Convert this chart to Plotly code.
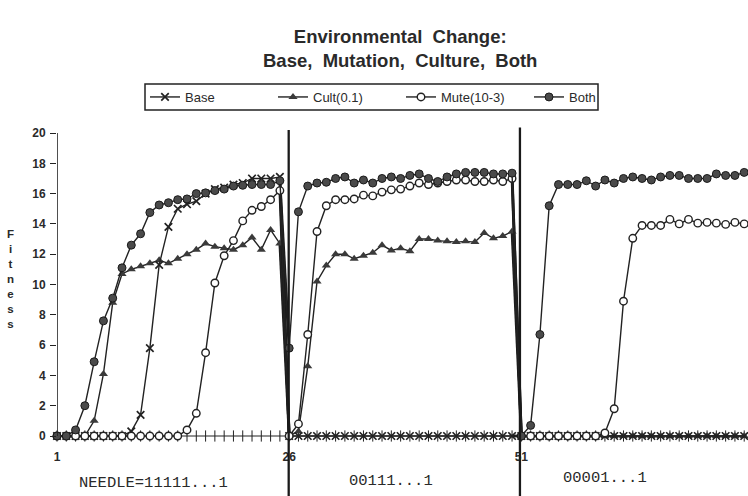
import plotly.graph_objects as go

generations = list(range(1, 76))

base = [0, 0, 0, 0, 0, 0, 0, 0, 0.3, 1.4, 5.8, 11.3, 13.8, 15.0, 15.3, 15.5, 16.0, 16.3, 16.4, 16.6, 16.7, 17.0, 17.0, 17.0, 17.1] + [0] * 50

cult = ([0, 0, 0, 0, 1.0, 4.1, 8.8, 10.7, 11.0, 11.2, 11.4, 11.6, 11.4, 11.7, 12.0, 12.3, 12.7, 12.5, 12.4, 12.3, 12.6, 13.1, 12.3, 13.6, 12.7]
        + [0, 0.3, 4.6, 10.2, 11.25, 12.0, 12.0, 11.7, 11.9, 12.1, 12.6, 12.25, 12.4, 12.2, 13.0, 13.0, 12.9, 12.85, 12.8, 12.85, 12.8, 13.4, 13.05, 13.2, 13.5]
        + [0] * 25)

mute = ([0, 0, 0, 0, 0, 0, 0, 0, 0, 0, 0, 0, 0, 0, 0.4, 1.5, 5.5, 10.1, 11.9, 12.9, 14.2, 14.9, 15.15, 15.6, 16.2]
        + [0, 0.8, 6.7, 13.5, 15.2, 15.6, 15.6, 15.65, 15.9, 15.85, 16.1, 16.25, 16.3, 16.5, 16.7, 16.6, 16.7, 16.8, 16.9, 16.9, 16.8, 16.8, 16.9, 16.8, 17.0]
        + [0, 0, 0, 0, 0, 0, 0, 0, 0, 0.2, 1.8, 8.9, 13.05, 13.9, 13.9, 13.9, 14.3, 14.0, 14.3, 14.05, 14.1, 14.05, 13.97, 14.1, 14.0])

both = ([0, 0, 0.4, 2.0, 4.9, 7.6, 9.1, 11.1, 12.6, 13.35, 14.75, 15.25, 15.4, 15.6, 15.65, 16.0, 16.05, 16.2, 16.3, 16.5, 16.55, 16.6, 16.6, 16.6, 16.85]
        + [5.8, 14.8, 16.5, 16.7, 16.75, 17.0, 17.1, 16.7, 16.9, 16.7, 17.0, 17.1, 17.0, 17.2, 17.3, 17.0, 16.8, 17.1, 17.3, 17.4, 17.4, 17.4, 17.3, 17.3, 17.35]
        + [0, 0.7, 6.7, 15.2, 16.6, 16.6, 16.6, 16.85, 16.5, 16.9, 16.7, 17.0, 17.1, 17.0, 16.9, 17.1, 17.2, 17.2, 17.0, 17.0, 17.0, 17.3, 17.2, 17.2, 17.4])

y_ticks = [0, 2, 4, 6, 8, 10, 12, 14, 16, 18, 20]
x_tickvals = [1, 26, 51]
x_ticktext = ["1", "26", "51"]
change_points = [25.95, 50.85]
env_labels = ["NEEDLE=11111...1", "00111...1", "00001...1"]
env_label_x = [11.4, 37.0, 60.0]
env_label_y = [-0.135, -0.129, -0.119]

INK = "#222222"
LINE_W = 1.4
SANS = "Liberation Sans, Arial"

series = [
    ("Cult(0.1)", cult, 2, dict(symbol="triangle-up", size=8, color="#3a3a3a")),
    ("Base", base, 1, dict(symbol="x-thin-open", size=7.5, color=INK, line=dict(width=1.7, color=INK))),
    ("Mute(10-3)", mute, 3, dict(symbol="circle", size=7.5, color="white", line=dict(width=1.4, color=INK))),
    ("Both", both, 4, dict(symbol="circle", size=8, color="#4a4a4a", line=dict(width=1, color="#1a1a1a"))),
]

fig = go.Figure()

# x-axis tick marks at each generation
fig.add_trace(go.Scatter(
    x=generations, y=[0] * len(generations), mode="markers",
    marker=dict(symbol="line-ns-open", size=8, color=INK, line=dict(width=1, color=INK)),
    showlegend=False, hoverinfo="skip", cliponaxis=False))

# heavier strokes where the environment changes (drawn from the same series)
for name, ys, rank, mk in series:
    for cp in change_points:
        i = int(cp)
        fig.add_trace(go.Scatter(
            x=generations[i - 1:i + 1], y=ys[i - 1:i + 1], mode="lines",
            line=dict(color="#1a1a1a", width=2.8), showlegend=False, hoverinfo="skip"))

for name, ys, rank, mk in series:
    fig.add_trace(go.Scatter(
        x=generations, y=ys, mode="lines+markers", name=name, legendrank=rank,
        line=dict(color=INK, width=LINE_W), marker=mk, cliponaxis=False))

shapes = []
shapes.append(dict(type="line", xref="x", yref="y", x0=1, x1=1, y0=0, y1=20,
                   line=dict(color=INK, width=1.6)))
shapes.append(dict(type="line", xref="x", yref="y", x0=1, x1=75, y0=0, y1=0,
                   line=dict(color=INK, width=1.2), layer="below"))
for cp, top in zip(change_points, [1.0, 1.008]):
    shapes.append(dict(type="line", xref="x", yref="paper", x0=cp, x1=cp, y0=-0.2, y1=top,
                       line=dict(color="#1a1a1a", width=2.3)))
shapes.append(dict(type="rect", xref="paper", yref="paper",
                   x0=(145 - 57) / 690, x1=(598 - 57) / 690,
                   y0=(441 - 110) / 311, y1=(441 - 84) / 311,
                   line=dict(color=INK, width=1.5)))

annotations = []
annotations.append(dict(text="<b>Environmental  Change:</b><br><b>Base,  Mutation,  Culture,  Both</b>",
                        xref="paper", yref="paper", x=(400 - 57) / 690, y=(441 - 49) / 311,
                        xanchor="center", yanchor="middle", showarrow=False,
                        font=dict(family=SANS, size=18.5, color="#2a2a2a")))
annotations.append(dict(text="<b>F<br>i<br>t<br>n<br>e<br>s<br>s</b>", xref="paper", yref="paper",
                        x=(10 - 57) / 690, y=(441 - 279) / 311, xanchor="center", yanchor="middle",
                        showarrow=False, font=dict(family=SANS, size=11.5, color="#2a2a2a")))
for txt, xx, yy in zip(env_labels, env_label_x, env_label_y):
    annotations.append(dict(text=txt, xref="x", yref="paper", x=xx, y=yy,
                            xanchor="center", yanchor="middle", showarrow=False,
                            font=dict(family="Liberation Mono, Courier New, monospace", size=15.5, color="#2a2a2a")))

fig.update_layout(
    width=748, height=496,
    margin=dict(l=57, r=1, t=130, b=55),
    paper_bgcolor="white", plot_bgcolor="white",
    showlegend=True,
    legend=dict(orientation="h", x=(145 - 57) / 690, xanchor="left",
                y=(441 - 97) / 311, yanchor="middle",
                bgcolor="rgba(0,0,0,0)", borderwidth=0,
                entrywidth=83, entrywidthmode="pixels", itemwidth=30,
                font=dict(family=SANS, size=13, color="#2a2a2a")),
    shapes=shapes,
    annotations=annotations,
    xaxis=dict(range=[1, 75.3], showgrid=False, zeroline=False, showline=False,
               tickvals=x_tickvals, ticktext=x_ticktext, ticks="", ticklabelstandoff=7,
               tickfont=dict(family=SANS, size=12, color="#2a2a2a", weight="bold")),
    yaxis=dict(range=[-0.33, 20.2], showgrid=False, zeroline=False, showline=False,
               tickvals=y_ticks, ticks="outside", ticklen=6, tickwidth=1.3, tickcolor=INK,
               ticklabelstandoff=2,
               tickfont=dict(family=SANS, size=12, color="#2a2a2a", weight="bold")),
)

fig.write_html("out.html")
